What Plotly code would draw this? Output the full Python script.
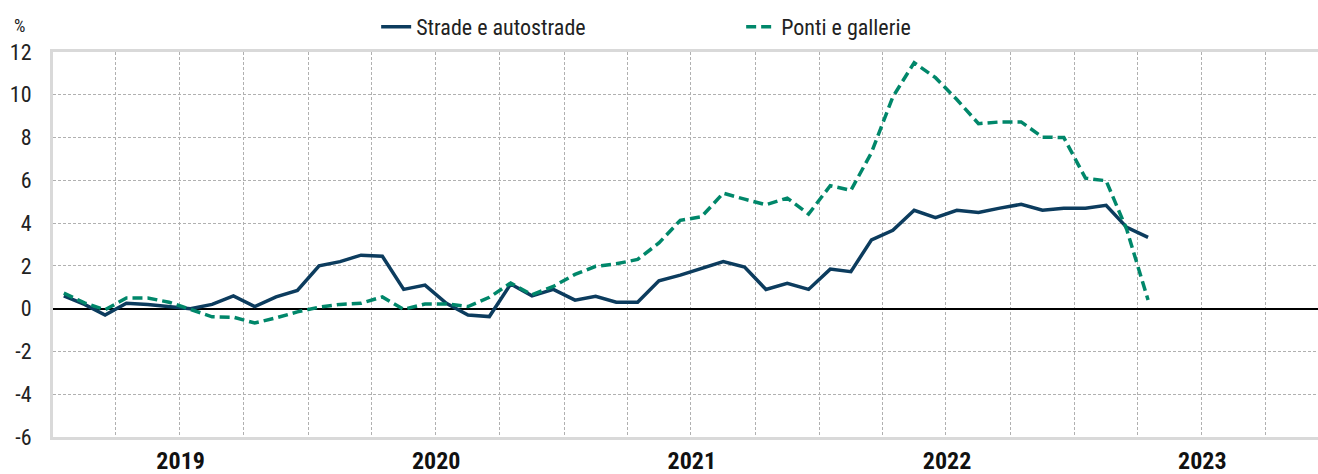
import pandas as pd
import plotly.graph_objects as go

# mesi gen 2019 - apr 2023
mesi = pd.date_range("2019-01-01", periods=52, freq="MS")

strade = [0.6, 0.2, -0.3, 0.25, 0.2, 0.1, 0.0, 0.2, 0.6, 0.1, 0.55, 0.85,
          2.0, 2.2, 2.5, 2.45, 0.9, 1.1, 0.25, -0.3, -0.37, 1.15, 0.6, 0.9,
          0.4, 0.58, 0.3, 0.3, 1.3, 1.57, 1.88, 2.2, 1.95, 0.9, 1.18, 0.9,
          1.85, 1.73, 3.22, 3.66, 4.6, 4.25, 4.6, 4.5, 4.7, 4.88, 4.6, 4.7,
          4.7, 4.83, 3.8, 3.33]

ponti = [0.73, 0.27, -0.05, 0.5, 0.5, 0.3, -0.03, -0.38, -0.4, -0.67, -0.43, -0.15,
         0.07, 0.2, 0.25, 0.55, -0.03, 0.22, 0.22, 0.1, 0.53, 1.2, 0.65, 1.04,
         1.6, 1.98, 2.1, 2.3, 3.07, 4.13, 4.3, 5.4, 5.12, 4.86, 5.17, 4.42,
         5.75, 5.53, 7.3, 9.9, 11.5, 10.8, 9.78, 8.65, 8.73, 8.73, 8.02, 8.0,
         6.1, 5.98, 3.7, 0.4]

# etichette asse y con il trattino semplice, come nell'originale
y_vals = [-6, -4, -2, 0, 2, 4, 6, 8, 10, 12]
y_text = ["-6", "-4", "-2", "0", "2", "4", "6", "8", "10", "12"]

NAVY = "#0c3c5e"
GREEN = "#00876a"
FONT = "Liberation Sans Narrow, Arial Narrow, Roboto Condensed, sans-serif"
GRID = "#b0b0b0"

fig = go.Figure()
fig.add_trace(go.Scatter(x=mesi, y=strade, name="Strade e autostrade",
                         mode="lines", xperiod="M1", xperiodalignment="middle",
                         line=dict(color=NAVY, width=3.5)))
fig.add_trace(go.Scatter(x=mesi, y=ponti, name="Ponti e gallerie",
                         mode="lines", xperiod="M1", xperiodalignment="middle",
                         line=dict(color=GREEN, width=3.5, dash="10px,5px")))

fig.update_layout(
    width=1318, height=474,
    margin=dict(l=53, r=0, t=52, b=37),
    plot_bgcolor="white", paper_bgcolor="white",
    font=dict(family=FONT, size=22, color="#222222"),
    showlegend=True,
    legend=dict(orientation="h", x=0.544, xanchor="center", y=1.065, yanchor="middle",
                font=dict(size=22), entrywidth=320, bgcolor="rgba(0,0,0,0)"),
    xaxis=dict(type="date", range=["2019-01-01", "2023-12-15"],
               tick0="2019-01-01", dtick="M12", tickformat="%Y",
               ticklabelmode="period", ticks="",
               tickfont=dict(size=24, color="#111111", weight="bold"),
               showgrid=True, gridcolor=GRID, griddash="3px,2px", gridwidth=1,
               minor=dict(dtick="M3", showgrid=True, gridcolor=GRID,
                          griddash="3px,2px", gridwidth=1),
               showline=True, linecolor="#d9d9d9", linewidth=3, mirror=True,
               zeroline=False),
    yaxis=dict(range=[-6, 12], tickvals=y_vals, ticktext=y_text,
               ticks="", ticklabelstandoff=14,
               tickfont=dict(size=22, color="#222222"),
               showgrid=True, gridcolor=GRID, griddash="3px,2px", gridwidth=1,
               showline=True, linecolor="#d9d9d9", linewidth=3,
               zeroline=True, zerolinecolor="black", zerolinewidth=2),
)

fig.add_annotation(text="%", xref="paper", yref="paper", x=-0.0324, xanchor="left",
                   y=1.07, yanchor="middle", showarrow=False,
                   font=dict(size=18, color="#222222"))

# niente margine della pagina, cosi il grafico riempie la finestra
fig.write_html("out.html", config={"displayModeBar": False},
               post_script="document.body.style.margin='0';")
